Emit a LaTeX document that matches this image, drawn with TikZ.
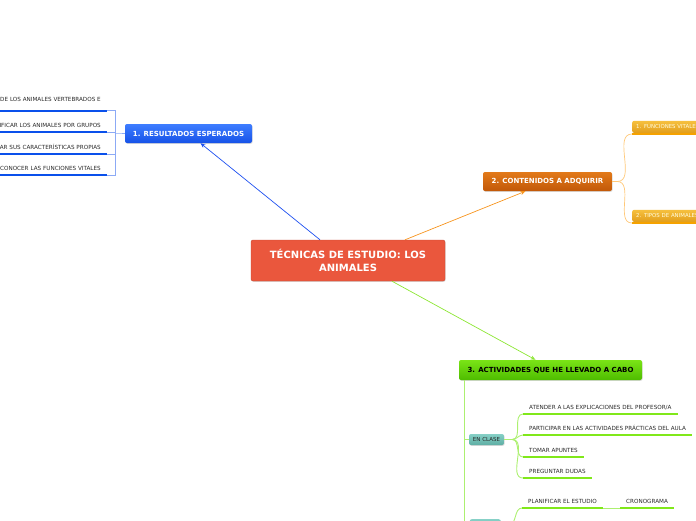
\documentclass[tikz,border=0pt]{standalone}
\usepackage{fontspec}
\setmainfont{DejaVu Sans}
\usepackage{tikz}
\usetikzlibrary{arrows.meta, positioning, shadows}
\definecolor{rootred}{RGB}{234,87,61}
\definecolor{restop}{RGB}{62,125,255}
\definecolor{resbot}{RGB}{22,82,232}
\definecolor{conttop}{RGB}{226,122,26}
\definecolor{contbot}{RGB}{194,88,8}
\definecolor{acttop}{RGB}{122,228,22}
\definecolor{actbot}{RGB}{78,188,0}
\definecolor{goldtop}{RGB}{246,192,62}
\definecolor{goldbot}{RGB}{226,158,28}
\definecolor{goldline}{RGB}{245,162,0}
\definecolor{tealtop}{RGB}{134,208,198}
\definecolor{tealbot}{RGB}{94,174,164}
\definecolor{leafgreen}{RGB}{128,232,26}
\definecolor{stemgreen}{RGB}{172,240,112}
\definecolor{leafblue}{RGB}{10,80,235}
\definecolor{bracketblue}{RGB}{140,170,245}
\definecolor{linkblue}{RGB}{30,80,240}
\definecolor{linkorange}{RGB}{247,148,29}
\definecolor{linkgreen}{RGB}{140,230,50}
\definecolor{softorange}{RGB}{255,200,120}
\definecolor{darktext}{RGB}{40,40,40}

\begin{document}
\begin{tikzpicture}[x=1pt, y=-1pt,
    topic/.style={
      rectangle, rounded corners=2pt, inner sep=0pt,
      font=\fontsize{7}{8}\selectfont\bfseries,
      drop shadow={opacity=0.3, shadow xshift=0.6pt, shadow yshift=-0.8pt}
    },
    rootbox/.style={
      topic, fill=rootred, draw=rootred!85!black, line width=0.4pt,
      minimum width=194pt, minimum height=41pt, align=center,
      font=\fontsize{10}{12.7}\selectfont\bfseries, text=white
    },
    bluebox/.style={topic, top color=restop, bottom color=resbot, text=white,
      minimum width=127pt, minimum height=19pt},
    orangebox/.style={topic, top color=conttop, bottom color=contbot, text=white,
      minimum width=129pt, minimum height=19pt},
    greenbox/.style={topic, top color=acttop, bottom color=actbot, text=black,
      minimum width=183pt, minimum height=20pt},
    goldbox/.style={topic, top color=goldtop, bottom color=goldbot,
      text=white!88!yellow, anchor=south west, minimum height=12pt,
      inner xsep=4pt, text width=90pt,
      font=\fontsize{5.4}{6}\selectfont},
    tealbox/.style={topic, top color=tealtop, bottom color=tealbot,
      text=darktext, minimum height=11pt,
      font=\fontsize{5.5}{6}\selectfont},
    leaf/.style={inner xsep=6pt, inner ysep=3.5pt, text height=4pt,
      text depth=0.8pt, font=\fontsize{5.65}{6.5}\selectfont, text=darktext},
    leftleaf/.style={leaf, anchor=south east, text width=110pt, align=right},
    rightleaf/.style={leaf, anchor=south west},
    blueunder/.style={leafblue, line width=2.2pt},
    greenunder/.style={leafgreen, line width=2.2pt},
    goldunder/.style={goldline, line width=1.8pt},
    bracket/.style={bracketblue, line width=0.6pt},
    stem/.style={stemgreen, line width=0.9pt},
    softstem/.style={softorange, line width=0.7pt},
    link/.style={-{Stealth[length=5pt, width=4pt]}, line width=0.7pt}
  ]
  \useasboundingbox (0,0) rectangle (696,520);
  \clip (0,0) rectangle (696,520);

  % main topic and the three branches
  \node[rootbox] (root) at (348,260.5) {TÉCNICAS DE ESTUDIO: LOS\\ANIMALES};
  \node[bluebox] (res) at (188.5,133.5) {1. RESULTADOS ESPERADOS};
  \node[orangebox] (cont) at (547.5,181.5) {2. CONTENIDOS A ADQUIRIR};
  \node[greenbox] (act) at (550.5,370) {3. ACTIVIDADES QUE HE LLEVADO A CABO};

  \draw[link, linkblue] ([xshift=-28pt]root.north) -- ([xshift=12pt]res.south);
  \draw[link, linkorange] ([xshift=57pt]root.north) -- ([xshift=-22pt]cont.south);
  \draw[link, linkgreen] ([xshift=44pt]root.south) -- ([xshift=-15pt]act.north);

  % 1. resultados esperados
  \node[leftleaf, text depth=6pt] (r1) at (107,110.7) {DE LOS ANIMALES VERTEBRADOS E};
  \node[leftleaf] (r2) at (107,132.3) {IFICAR LOS ANIMALES POR GRUPOS};
  \node[leftleaf] (r3) at (107,154) {AR SUS CARACTERÍSTICAS PROPIAS};
  \node[leftleaf] (r4) at (107,175) {CONOCER LAS FUNCIONES VITALES};
  \coordinate (brk) at (115,133.3);
  \draw[bracket] (res.west) -- (brk);
  \foreach \r in {r1,r2,r3,r4} {
    \draw[bracket] (\r.south east) -| (brk);
    \draw[blueunder] (\r.south west) -- (\r.south east);
  }

  % 2. contenidos a adquirir
  \node[goldbox] (fv) at (632,133) {1. FUNCIONES VITALES};
  \node[goldbox] (ta) at (632,222) {2. TIPOS DE ANIMALES};
  \draw[goldunder] ([yshift=-0.9pt]fv.south west) -- ([yshift=-0.9pt]fv.south east);
  \draw[goldunder] ([yshift=-0.9pt]ta.south west) -- ([yshift=-0.9pt]ta.south east);
  \draw[softstem] (cont.east) -- ++(5,0) to[out=0, in=180] ([yshift=-1pt]fv.south west);
  \draw[softstem] (cont.east) -- ++(5,0) to[out=0, in=180] ([yshift=-1pt]ta.south west);

  % 3. actividades
  \node[tealbox, minimum width=35pt] (clase) at (486.5,439.5) {EN CLASE};
  \node[tealbox, minimum width=31pt, anchor=north west] (casa) at (469.5,519) {};
  \draw[stem] ([xshift=6pt]act.south west) |- (clase.west);
  \draw[stem] ([xshift=6pt]act.south west) |- (casa.west);

  \node[rightleaf] (a1) at (523,414) {ATENDER A LAS EXPLICACIONES DEL PROFESOR/A};
  \node[rightleaf] (a2) at (523,435) {PARTICIPAR EN LAS ACTIVIDADES PRÁCTICAS DEL AULA};
  \node[rightleaf] (a3) at (523,457) {TOMAR APUNTES};
  \node[rightleaf] (a4) at (523,478) {PREGUNTAR DUDAS};
  \foreach \a in {a1,a2,a3,a4} {
    \draw[stem] (clase.east) -- ++(8,0) to[out=0, in=180] (\a.south west);
    \draw[greenunder] (\a.south west) -- (\a.south east);
  }

  \node[rightleaf] (plan) at (522,508) {PLANIFICAR EL ESTUDIO};
  \node[rightleaf] (crono) at (620,508) {CRONOGRAMA};
  \draw[stem] (casa.east) -- ++(8,0) to[out=0, in=180] (plan.south west);
  \draw[stem] (plan.south east) -- (crono.south west);
  \draw[greenunder] (plan.south west) -- (plan.south east);
  \draw[greenunder] (crono.south west) -- (crono.south east);
\end{tikzpicture}
\end{document}
